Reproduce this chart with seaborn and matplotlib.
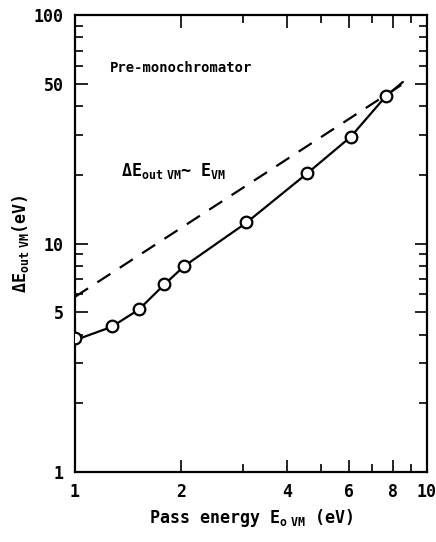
import numpy as np
import pandas as pd
import seaborn as sns
import matplotlib
matplotlib.use("Agg")
import matplotlib.pyplot as plt
from matplotlib.ticker import FixedLocator, FixedFormatter, NullFormatter

# Measured resolution of the pre-monochromator vs. pass energy
pass_energy = [1.0, 1.27, 1.52, 1.79, 2.04, 3.06, 4.57, 6.07, 7.63]
delta_e = [3.87, 4.35, 5.2, 6.65, 8.0, 12.4, 20.4, 29.2, 44.2]

# Smooth fit curve through the measurements
fit_energy = [1.0, 1.27, 1.52, 1.79, 2.04, 3.06, 4.57, 6.07, 7.63, 8.55]
fit_delta = [3.78, 4.32, 5.15, 6.6, 7.95, 12.3, 20.3, 29.3, 44.0, 51.0]

# Linear scaling reference  dE ~ E
ref_energy = [1.0, 8.55]
ref_delta = [5.85, 50.0]

x_ticks = [1, 2, 4, 6, 8, 10]
x_minor = [3, 5, 7, 9]
y_ticks = [1, 5, 10, 50, 100]
y_minor = [2, 3, 4, 6, 7, 8, 9, 20, 30, 40, 60, 70, 80, 90]

sns.set_theme(style="ticks")
plt.rcParams["font.family"] = ["DejaVu Sans Mono"]
plt.rcParams["font.weight"] = "bold"
plt.rcParams["text.color"] = "black"
plt.rcParams["axes.labelcolor"] = "black"
plt.rcParams["mathtext.fontset"] = "custom"
plt.rcParams["mathtext.rm"] = "DejaVu Sans Mono:bold"
plt.rcParams["mathtext.it"] = "DejaVu Sans Mono:bold"
plt.rcParams["mathtext.bf"] = "DejaVu Sans Mono:bold"

fig = plt.figure(figsize=(4.36, 5.42), dpi=100)
ax = fig.add_axes([0.172, 0.129, 0.807, 0.843])

fit_df = pd.DataFrame({"E": fit_energy, "dE": fit_delta})
ref_df = pd.DataFrame({"E": ref_energy, "dE": ref_delta})
pts_df = pd.DataFrame({"E": pass_energy, "dE": delta_e})

sns.lineplot(data=fit_df, x="E", y="dE", ax=ax, color="black", lw=1.6,
             sort=False, estimator=None)
sns.lineplot(data=ref_df, x="E", y="dE", ax=ax, color="black", lw=1.6,
             sort=False, estimator=None, dashes=False)
ax.lines[-1].set_dashes([7, 5])
sns.scatterplot(data=pts_df, x="E", y="dE", ax=ax, marker="o", s=70,
                facecolor="white", edgecolor="black", linewidth=1.6, zorder=5)

ax.set_xscale("log")
ax.set_yscale("log")
ax.set_xlim(1, 10)
ax.set_ylim(1, 100)

ax.xaxis.set_major_locator(FixedLocator(x_ticks))
ax.xaxis.set_major_formatter(FixedFormatter([str(v) for v in x_ticks]))
ax.xaxis.set_minor_locator(FixedLocator(x_minor))
ax.xaxis.set_minor_formatter(NullFormatter())
ax.yaxis.set_major_locator(FixedLocator(y_ticks))
ax.yaxis.set_major_formatter(FixedFormatter([str(v) for v in y_ticks]))
ax.yaxis.set_minor_locator(FixedLocator(y_minor))
ax.yaxis.set_minor_formatter(NullFormatter())

ax.tick_params(which="both", direction="in", top=True, right=True,
               color="black", width=1.2, labelsize=12, labelcolor="black")
ax.tick_params(which="major", length=9, pad=8)
ax.tick_params(which="minor", length=6)
for sp in ax.spines.values():
    sp.set_visible(True)
    sp.set_linewidth(1.6)
    sp.set_color("black")

ax.set_xlabel(r"Pass energy E$_{\rm o\;\;VM}$ (eV)", fontsize=12,
              fontweight="bold", labelpad=4, color="black")
ax.set_ylabel(r"$\Delta$E$_{\rm out\;\;VM}$(eV)", fontsize=12,
              fontweight="bold", labelpad=2, color="black")

ax.text(0.1, 0.885, "Pre-monochromator", transform=ax.transAxes,
        fontsize=10, fontweight="bold", ha="left", va="center",
        color="black")
ax.text(0.13, 0.66, r"$\Delta$E$_{\rm out\;\;VM}$~ E$_{\rm VM}$",
        transform=ax.transAxes, fontsize=12, fontweight="bold",
        ha="left", va="center", color="black")

fig.savefig("out.png", dpi=100, facecolor="white")
